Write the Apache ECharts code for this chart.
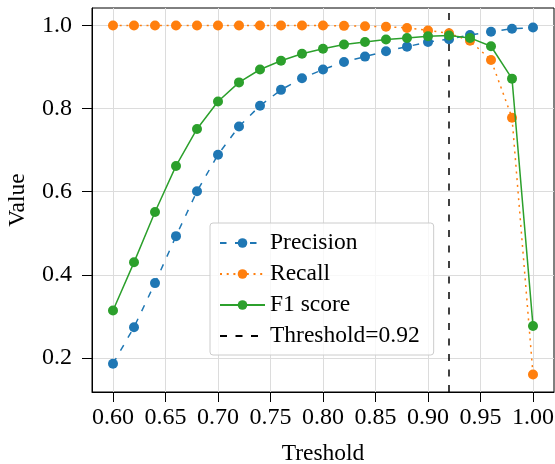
<!DOCTYPE html>
<html>
<head>
<meta charset="utf-8">
<script src="https://cdn.jsdelivr.net/npm/echarts@6/dist/echarts.min.js"></script>
<style>html,body{margin:0;padding:0;background:#fff}#c{width:555px;height:464px}</style>
</head>
<body>
<div id="c"></div>
<script>
const thresholds = [0.60,0.62,0.64,0.66,0.68,0.70,0.72,0.74,0.76,0.78,0.80,0.82,0.84,0.86,0.88,0.90,0.92,0.94,0.96,0.98,1.00];
const precision = [0.186,0.274,0.380,0.493,0.601,0.689,0.757,0.807,0.845,0.873,0.894,0.912,0.925,0.938,0.949,0.960,0.967,0.977,0.985,0.992,0.995];
const recall = [1.000,1.000,1.000,1.000,1.000,1.000,1.000,1.000,1.000,1.000,1.000,0.999,0.998,0.997,0.994,0.988,0.981,0.963,0.917,0.778,0.160];
const f1 = [0.314,0.430,0.551,0.662,0.751,0.817,0.863,0.894,0.915,0.932,0.944,0.954,0.960,0.966,0.970,0.974,0.976,0.970,0.950,0.872,0.277];
const bestThreshold = 0.92;
const xTicks = [0.60,0.65,0.70,0.75,0.80,0.85,0.90,0.95,1.00];
const yTicks = [0.2,0.4,0.6,0.8,1.0];
const xRange = [0.58, 1.02];
const yRange = [0.118, 1.042];

const FONT = 'Liberation Serif';
const pairs = arr => thresholds.map((t,i)=>[t, arr[i]]);
const chart = echarts.init(document.getElementById('c'), null, {renderer:'canvas'});
const gridColor = '#dcdcdc';
chart.setOption({
  animation:false,
  backgroundColor:'#fff',
  grid:{left:92,right:1,top:8,bottom:72,outerBoundsMode:'none',containLabel:false,show:true,borderColor:'#000',borderWidth:1,backgroundColor:'transparent'},
  xAxis:{
    type:'value', min:xRange[0], max:xRange[1],
    name:'Treshold', nameLocation:'middle', nameGap:50,
    nameTextStyle:{fontFamily:FONT,fontSize:23.5,color:'#000'},
    axisLine:{show:true,lineStyle:{color:'#000',width:1}},
    axisTick:{show:true,inside:false,length:10,customValues:xTicks,lineStyle:{color:'#000',width:1}},
    axisLabel:{customValues:xTicks,margin:14,fontFamily:FONT,fontSize:24,color:'#000',formatter:v=>v.toFixed(2)},
    splitLine:{show:true,lineStyle:{color:gridColor,width:1}}
  },
  yAxis:{
    type:'value', min:yRange[0], max:yRange[1],
    name:'Value', nameLocation:'middle', nameGap:62, nameRotate:90,
    nameTextStyle:{fontFamily:FONT,fontSize:23.5,color:'#000'},
    axisLine:{show:true,lineStyle:{color:'#000',width:1}},
    axisTick:{show:true,inside:false,length:10,customValues:yTicks,lineStyle:{color:'#000',width:1}},
    axisLabel:{customValues:yTicks,margin:20,fontFamily:FONT,fontSize:24,color:'#000',formatter:v=>v.toFixed(1)},
    splitLine:{show:true,lineStyle:{color:gridColor,width:1}}
  },
  legend:{
    orient:'vertical', left:210, top:223,
    itemWidth:45, itemHeight:12, itemGap:7,
    padding:[8,14,7,9],
    borderColor:'#cccccc', borderWidth:1, borderRadius:3,
    backgroundColor:'rgba(255,255,255,0.8)',
    textStyle:{fontFamily:FONT,fontSize:23.5,color:'#000',lineHeight:24},
    data:['Precision','Recall','F1 score',{name:'Threshold=0.92',itemStyle:{opacity:0}}]
  },
  series:[
    {name:'Threshold=0.92',type:'line',z:1,symbol:'none',
     data:[[bestThreshold,yRange[0]],[bestThreshold,yRange[1]]],
     lineStyle:{color:'#000',width:1.5,type:[7,8.5]},itemStyle:{color:'#000'}},
    {name:'Precision',type:'line',z:3,data:pairs(precision),symbol:'circle',symbolSize:10,
     lineStyle:{color:'#1f77b4',width:1.5,type:[6.5,8.5]},itemStyle:{color:'#1f77b4'}},
    {name:'Recall',type:'line',z:4,data:pairs(recall),symbol:'circle',symbolSize:10,
     lineStyle:{color:'#ff7f0e',width:1.5,type:[2,4.7]},itemStyle:{color:'#ff7f0e'}},
    {name:'F1 score',type:'line',z:5,data:pairs(f1),symbol:'circle',symbolSize:10,
     lineStyle:{color:'#2ca02c',width:1.5,type:'solid'},itemStyle:{color:'#2ca02c'}}
  ]
});
</script>
</body>
</html>
